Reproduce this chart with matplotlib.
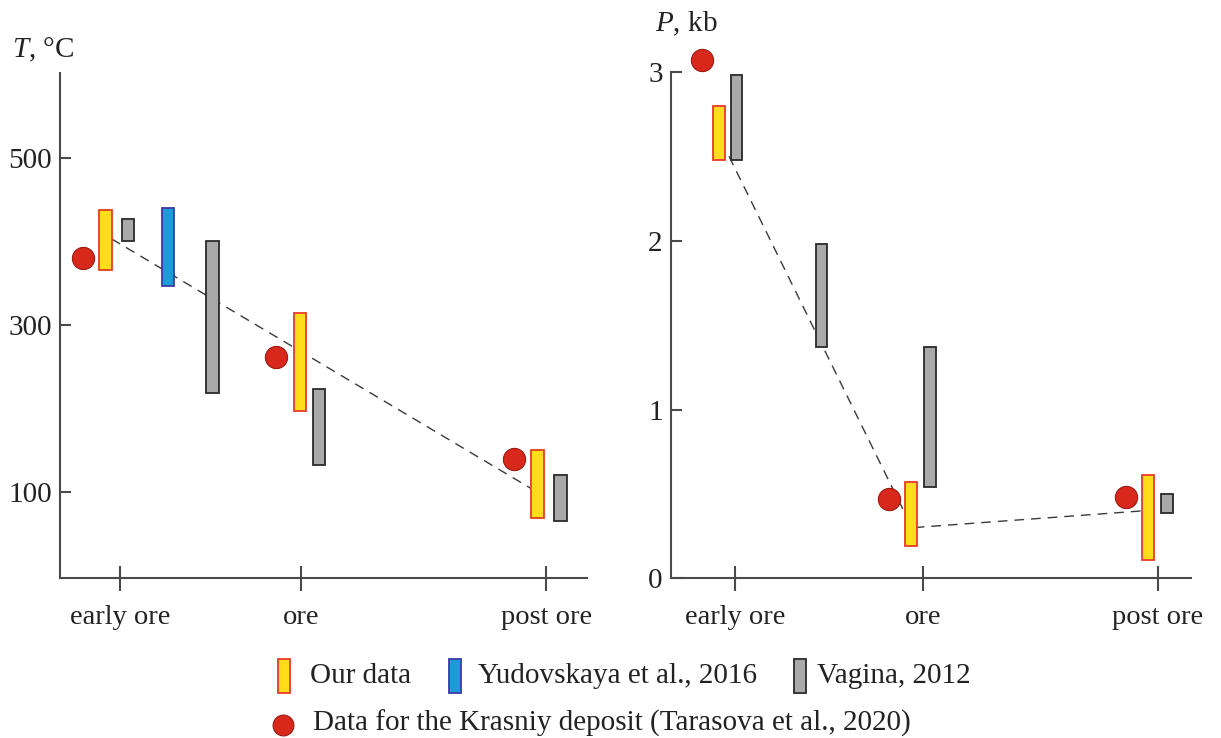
import matplotlib.pyplot as plt
from matplotlib.patches import Rectangle
from matplotlib.lines import Line2D

plt.rcParams['font.family'] = ['Liberation Serif', 'DejaVu Serif']
plt.rcParams['mathtext.fontset'] = 'custom'
plt.rcParams['mathtext.it'] = 'Liberation Serif:italic'
plt.rcParams['mathtext.rm'] = 'Liberation Serif'

stages = ['early ore', 'ore', 'post ore']

# temperature panel (deg C)
t_stage_x = [1.0, 2.0, 3.35]
t_our_x = [0.92, 1.99, 3.30]
t_our_lo = [366, 197, 69]
t_our_hi = [438, 314, 150]
t_yud_x = [1.266]
t_yud_lo = [347]
t_yud_hi = [440]
t_vag_x = [1.044, 1.509, 2.096, 3.427]
t_vag_lo = [400, 219, 133, 66]
t_vag_hi = [427, 400, 224, 121]
t_kras_x = [0.798, 1.862, 3.171]
t_kras = [380, 262, 140]
t_trend_x = [0.954, 3.269]
t_trend = [403, 104]

# pressure panel (kb)
p_stage_x = [1.0, 2.0, 3.25]
p_our_x = [0.915, 1.935, 3.197]
p_our_lo = [2.48, 0.19, 0.11]
p_our_hi = [2.80, 0.57, 0.61]
p_vag_x = [1.009, 1.460, 2.039, 3.297]
p_vag_lo = [2.48, 1.37, 0.54, 0.39]
p_vag_hi = [2.98, 1.98, 1.37, 0.50]
p_kras_x = [0.824, 1.820, 3.078]
p_kras = [3.07, 0.47, 0.48]
p_trend_x = [0.969, 1.942, 3.169]
p_trend = [2.50, 0.30, 0.40]

yel, yel_e = '#FFDD1A', '#E63A2A'
blu, blu_e = '#1E9AD6', '#3B3BA6'
gry, gry_e = '#A9A9A9', '#2A2A2A'
red, red_e = '#D8281C', '#9A1A12'
axcol = '#4A4A4A'
txtcol = '#222222'
fs = 21

fig = plt.figure(figsize=(12.21, 7.38), dpi=100)
axT = fig.add_axes([0.0491, 0.2163, 0.4316, 0.6854])
axP = fig.add_axes([0.5495, 0.2163, 0.4260, 0.6862])


def style(ax):
    for s in ['top', 'right']:
        ax.spines[s].set_visible(False)
    for s in ['left', 'bottom']:
        ax.spines[s].set_color(axcol)
        ax.spines[s].set_linewidth(1.5)
    ax.tick_params(axis='y', direction='in', length=8, width=1.5, color=axcol,
                   labelsize=fs, pad=6, labelcolor=txtcol)
    ax.tick_params(axis='x', direction='inout', length=18, width=1.5, color=axcol,
                   labelsize=fs - 0.5, pad=10, labelcolor=txtcol)


def bars(ax, x, lo, hi, w, fc, ec):
    ax.bar(x, [h - l for h, l in zip(hi, lo)], bottom=lo, width=w,
           facecolor=fc, edgecolor=ec, linewidth=1.3, zorder=3)


# --- T panel
wT = 0.068
axT.plot(t_trend_x, t_trend, ls=(0, (7, 5)), color='#3A3A3A', lw=1.0, zorder=2)
bars(axT, t_our_x, t_our_lo, t_our_hi, wT, yel, yel_e)
bars(axT, t_yud_x, t_yud_lo, t_yud_hi, wT, blu, blu_e)
bars(axT, t_vag_x, t_vag_lo, t_vag_hi, wT, gry, gry_e)
axT.plot(t_kras_x, t_kras, 'o', ms=16, color=red, mec=red_e, mew=0.8, zorder=4,
         clip_on=False)
axT.set_xlim(0.669, 3.573)
axT.set_ylim(-3, 602)
axT.set_yticks([100, 300, 500])
axT.set_xticks(t_stage_x)
axT.set_xticklabels(stages)
style(axT)
fig.text(12 / 1221, 1 - 50 / 738, r'$T$, °C', fontsize=fs, va='center', ha='left',
         color=txtcol)

# --- P panel
wP = 0.062
axP.plot(p_trend_x, p_trend, ls=(0, (7, 5)), color='#3A3A3A', lw=1.0, zorder=2)
bars(axP, p_our_x, p_our_lo, p_our_hi, wP, yel, yel_e)
bars(axP, p_vag_x, p_vag_lo, p_vag_hi, wP, gry, gry_e)
axP.plot(p_kras_x, p_kras, 'o', ms=16, color=red, mec=red_e, mew=0.8, zorder=4,
         clip_on=False)
axP.set_xlim(0.660, 3.426)
axP.set_ylim(0, 3)
axP.set_yticks([0, 1, 2, 3])
axP.set_xticks(p_stage_x)
axP.set_xticklabels(stages)
style(axP)
fig.text(655 / 1221, 1 - 24 / 738, r'$P$, kb', fontsize=fs, va='center', ha='left',
         color=txtcol)

# --- legend
def leg_patch(xpx, ypx, fc, ec):
    fig.add_artist(Rectangle((xpx / 1221, 1 - (ypx + 17) / 738), 12 / 1221, 34 / 738,
                             transform=fig.transFigure, facecolor=fc, edgecolor=ec,
                             linewidth=1.3))

row1, row2 = 676, 723
leg_patch(278, row1, yel, yel_e)
fig.text(310 / 1221, 1 - row1 / 738, 'Our data', fontsize=fs, va='center', color=txtcol)
leg_patch(449, row1, blu, blu_e)
fig.text(478 / 1221, 1 - row1 / 738, 'Yudovskaya et al., 2016', fontsize=fs,
         va='center', color=txtcol)
leg_patch(794, row1, gry, gry_e)
fig.text(817 / 1221, 1 - row1 / 738, 'Vagina, 2012', fontsize=fs, va='center',
         color=txtcol)
fig.add_artist(Line2D([283 / 1221], [1 - 725 / 738], marker='o', ms=15, color=red,
                      mec=red_e, mew=0.8, transform=fig.transFigure))
fig.text(313 / 1221, 1 - row2 / 738,
         'Data for the Krasniy deposit (Tarasova et al., 2020)', fontsize=fs,
         va='center', color=txtcol)

fig.savefig('out.png', dpi=100)
